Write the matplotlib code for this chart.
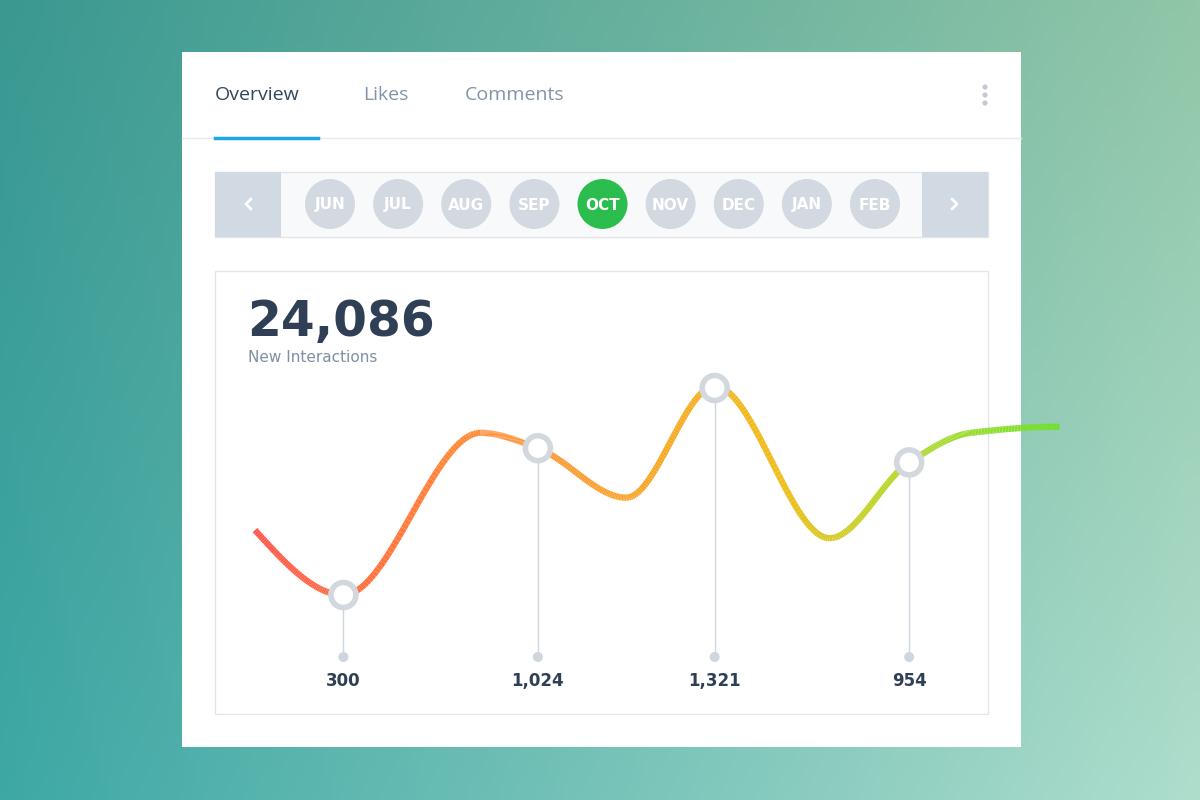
import numpy as np
import matplotlib
matplotlib.use("Agg")
import matplotlib.pyplot as plt
from matplotlib.patches import Rectangle, Circle, FancyBboxPatch
from matplotlib.collections import LineCollection
from matplotlib.colors import LinearSegmentedColormap

tabs = ["Overview", "Likes", "Comments"]
months = ["JUN", "JUL", "AUG", "SEP", "OCT", "NOV", "DEC", "JAN", "FEB"]
active_month = "OCT"
total_label = "24,086"
subtitle = "New Interactions"
point_labels = ["300", "1,024", "1,321", "954"]
point_values = [300, 1024, 1321, 954]
# curve anchor values (same scale as point values)
curve_x = [0, 1, 2.55, 3.2, 4.2, 5.2, 6.5, 7.4, 8.1, 9.1]
curve_v = [620, 300, 1100, 1024, 780, 1330, 580, 954, 1100, 1130]
marker_x = [1, 3.2, 5.2, 7.4]

fig = plt.figure(figsize=(12, 8), dpi=100)
ax = fig.add_axes([0, 0, 1, 1])
ax.set_xlim(0, 1200); ax.set_ylim(800, 0); ax.axis("off")

# background gradient
yy, xx = np.mgrid[0:1:200j, 0:1:300j]
tl = np.array([58, 152, 145]); tr = np.array([145, 198, 168])
bl = np.array([62, 168, 165]); br = np.array([175, 222, 205])
img = (tl[None, None] * ((1-xx)*(1-yy))[..., None] + tr[None, None]*(xx*(1-yy))[..., None]
       + bl[None, None]*((1-xx)*yy)[..., None] + br[None, None]*(xx*yy)[..., None]) / 255
ax.imshow(img, extent=[0, 1200, 800, 0], aspect="auto", zorder=0)

ax.add_patch(Rectangle((182, 52), 839, 695, fc="white", ec="none", zorder=1))
tab_x = [215, 363, 465]
for t, x, c in zip(tabs, tab_x, ["#33475b", "#8394a8", "#8394a8"]):
    ax.text(x, 95, t, fontsize=14, color=c, va="center", ha="left", family="Open Sans", zorder=3)
ax.plot([182, 1021], [138, 138], color="#e6eaee", lw=1, zorder=2)
ax.plot([215, 318], [137.5, 137.5], color="#1ea7e8", lw=2.5, zorder=3)
for y in [87, 95, 103]:
    ax.add_patch(Circle((985, y), 2.6, fc="#c3cad3", ec="none", zorder=3))

# month bar
ax.add_patch(Rectangle((215, 172), 773, 65, fc="#f8f9fa", ec="#e1e5ea", lw=1, zorder=2))
ax.add_patch(Rectangle((215, 172), 66, 65, fc="#d1d9e2", ec="none", zorder=3))
ax.add_patch(Rectangle((922, 172), 66, 65, fc="#d1d9e2", ec="none", zorder=3))
ax.plot([251, 246, 251], [199, 204, 209], color="white", lw=2, zorder=4, solid_capstyle="round")
ax.plot([952, 957, 952], [199, 204, 209], color="white", lw=2, zorder=4, solid_capstyle="round")
mx = np.linspace(330, 875, len(months))
for m, x in zip(months, mx):
    c = "#2bbd4e" if m == active_month else "#d3d9e0"
    ax.add_patch(Circle((x, 204), 25, fc=c, ec="none", zorder=3))
    ax.text(x, 205, m, fontsize=11, color="white", weight="bold", ha="center", va="center", zorder=4)

# chart box
ax.add_patch(Rectangle((215, 271), 773, 443, fc="white", ec="#e3e7eb", lw=1, zorder=2))
ax.text(247, 322, total_label, fontsize=35, weight="bold", color="#2f3f55", va="center", zorder=3)
ax.text(248, 358, subtitle, fontsize=11, color="#7f8fa4", va="center", zorder=3)

# data -> pixel mapping
X0, XS = 255, 88.4
def px(x): return X0 + np.asarray(x) * XS
def py(v): return 595 - (np.asarray(v) - 300) * (595 - 388) / (1321 - 300)

# smooth curve through anchors (cubic Hermite, zero slope at extrema)
cx, cv = np.array(curve_x, float), np.array(curve_v, float)
n = len(cx); slopes = np.zeros(n)
for i in range(1, n-1):
    d1 = (cv[i]-cv[i-1])/(cx[i]-cx[i-1]); d2 = (cv[i+1]-cv[i])/(cx[i+1]-cx[i])
    slopes[i] = 0 if d1*d2 <= 0 else 2/(1/d1+1/d2)
slopes[0] = (cv[1]-cv[0])/(cx[1]-cx[0]) * 1.5
slopes[-1] = 0
xs, vs = [], []
for i in range(n-1):
    h = cx[i+1]-cx[i]; t = np.linspace(0, 1, 60)
    h00 = 2*t**3-3*t**2+1; h10 = t**3-2*t**2+t; h01 = -2*t**3+3*t**2; h11 = t**3-t**2
    xs.append(cx[i]+t*h)
    vs.append(h00*cv[i]+h10*h*slopes[i]+h01*cv[i+1]+h11*h*slopes[i+1])
xs = np.concatenate(xs); vs = np.concatenate(vs)
PX, PY = px(xs), py(vs)
pts = np.column_stack([PX, PY]).reshape(-1, 1, 2)
segs = np.concatenate([pts[:-1], pts[1:]], axis=1)
cmap = LinearSegmentedColormap.from_list("g", [(0, "#ff5548"), (0.25, "#ff8a3a"), (0.5, "#f6a927"),
                                               (0.65, "#efbf1f"), (0.78, "#bcd425"), (1, "#6fe22a")])
lc = LineCollection(segs, cmap=cmap, lw=4.5, zorder=4, capstyle="butt")
lc.set_array((PX[:-1]-PX.min())/(PX.max()-PX.min())); lc.set_clim(0, 1)
ax.add_collection(lc)

for x, v, lab in zip(marker_x, point_values, point_labels):
    X, Y = px(x), py(v)
    ax.plot([X, X], [Y, 657], color="#cfd6df", lw=1, zorder=3)
    ax.add_patch(Circle((X, 657), 5, fc="#cfd6df", ec="none", zorder=3))
    ax.add_patch(Circle((X, Y), 12.5, fc="white", ec="#d3d8de", lw=4, zorder=5))
    ax.text(X, 681, lab, fontsize=12, weight="bold", color="#2f3f55", ha="center", va="center", zorder=5)

fig.savefig("out.png", dpi=100)
